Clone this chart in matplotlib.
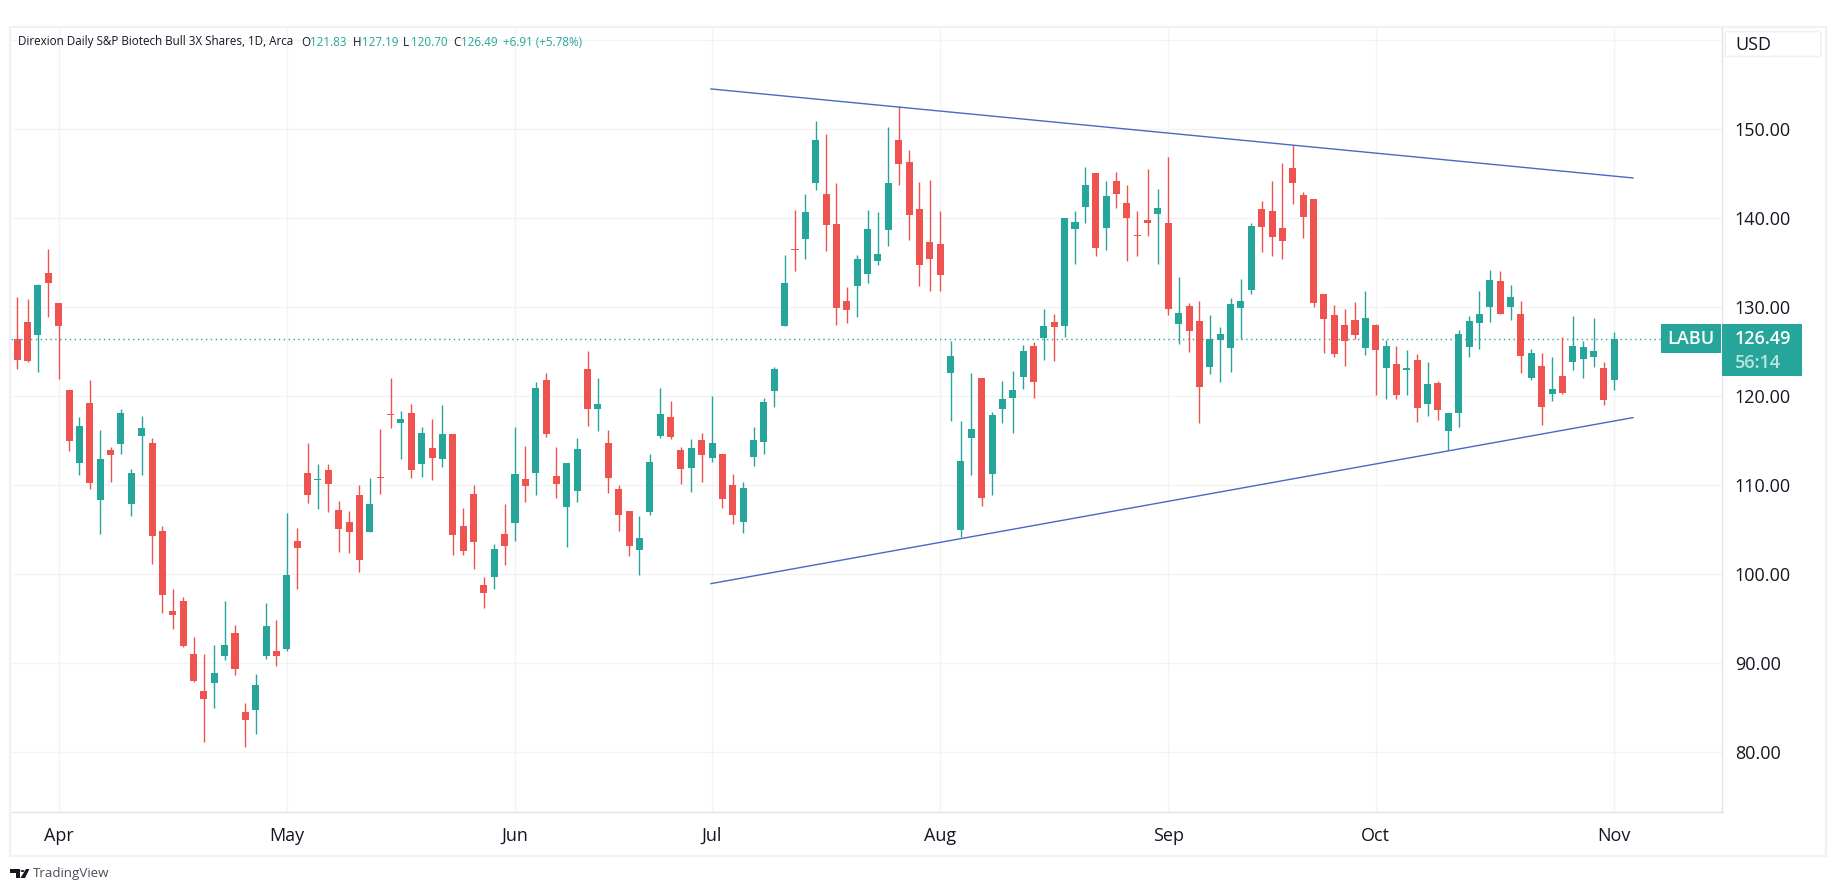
import numpy as np
import matplotlib
matplotlib.use("Agg")
import matplotlib.pyplot as plt
from matplotlib.patches import FancyBboxPatch, Polygon, Rectangle, Circle

plt.rcParams['font.family'] = ['Open Sans', 'DejaVu Sans']

# Daily candles, from 25 Mar to 1 Nov
opens = [126.41, 128.33, 126.91, 133.85, 130.49, 120.68, 112.54, 119.23, 108.38, 113.95,
         114.66, 107.93, 115.57, 114.74, 104.85, 95.88, 97.0, 91.06, 86.9, 87.74,
         90.77, 93.39, 84.54, 84.79, 90.77, 91.39, 91.64, 103.73, 111.38, 110.6,
         111.71, 107.22, 105.85, 108.88, 104.77, 110.95, 118.0, 116.98, 118.1, 112.41,
         114.2, 113.0, 115.77, 105.43, 109.03, 98.8, 99.74, 104.53, 105.81, 110.71,
         111.42, 121.84, 111.05, 107.6, 109.4, 123.07, 118.61, 114.76, 109.59, 107.12,
         102.77, 107.04, 115.54, 117.68, 113.97, 111.99, 115.09, 113.11, 113.52, 110.04,
         105.92, 113.22, 114.91, 120.64, 127.94, 136.6, 137.72, 144.01, 142.73, 139.36,
         130.71, 132.43, 133.78, 135.24, 138.73, 148.8, 146.33, 141.05, 137.34, 137.12,
         122.66, 105.02, 115.36, 122.06, 111.31, 118.61, 119.85, 122.21, 125.66, 126.55,
         128.35, 127.94, 138.84, 141.31, 145.09, 138.95, 144.19, 141.72, 138.15, 139.81,
         140.52, 139.48, 128.16, 130.15, 128.46, 123.33, 126.37, 125.47, 129.96, 131.99,
         141.05, 140.82, 138.91, 145.66, 142.62, 142.17, 131.5, 129.14, 128.01, 128.58,
         125.47, 128.01, 123.22, 123.63, 122.99, 124.08, 119.18, 121.5, 116.14, 118.17,
         125.58, 128.28, 130.07, 132.96, 130.07, 129.25, 122.06, 123.41, 120.3, 122.28,
         123.9, 124.23, 124.46, 123.18, 121.83]
highs = [131.15, 130.9, 132.56, 136.55, 130.49, 120.76, 117.65, 121.8, 116.2, 114.28,
         118.56, 111.87, 117.73, 115.36, 105.43, 98.33, 97.5, 92.97, 91.06, 92.06,
         97.0, 94.26, 85.53, 88.82, 96.79, 94.88, 106.89, 105.18, 114.74, 112.37,
         112.37, 108.22, 107.1, 110.05, 110.79, 116.32, 122.05, 118.35, 119.1, 116.53,
         117.44, 119.02, 115.77, 107.45, 110.04, 99.7, 103.41, 107.9, 116.55, 114.42,
         121.57, 122.62, 114.31, 112.51, 115.32, 125.09, 122.06, 116.22, 110.04, 107.12,
         106.55, 113.52, 120.94, 119.48, 114.31, 115.21, 115.88, 120.04, 113.52, 111.27,
         110.37, 116.55, 119.81, 123.3, 135.88, 140.94, 142.73, 150.94, 149.48, 143.97,
         132.28, 135.88, 140.94, 140.71, 150.26, 152.62, 147.68, 144.08, 144.31, 140.82,
         126.22, 117.23, 122.62, 122.06, 118.24, 121.72, 122.85, 125.77, 126.1, 129.81,
         129.25, 140.04, 140.82, 145.77, 145.09, 144.19, 145.21, 143.75, 140.82, 145.54,
         143.3, 146.89, 133.41, 130.49, 130.71, 129.14, 127.79, 131.05, 133.18, 139.48,
         141.95, 144.19, 146.22, 148.28, 142.96, 142.17, 131.5, 130.26, 129.81, 130.6,
         131.84, 128.13, 126.33, 125.66, 125.21, 124.76, 123.86, 121.72, 118.13, 127.45,
         129.03, 131.84, 134.19, 134.08, 132.51, 130.71, 125.32, 124.87, 124.42, 126.67,
         129.03, 126.22, 128.8, 123.86, 127.19]
lows = [123.09, 123.84, 122.76, 128.95, 121.97, 113.87, 111.21, 109.63, 104.56, 110.42,
        113.54, 106.6, 111.21, 101.2, 95.67, 93.88, 91.85, 87.94, 81.21, 85.03,
        90.4, 88.73, 80.55, 82.09, 90.52, 89.73, 91.43, 98.29, 108.05, 107.39,
        107.05, 102.53, 102.44, 100.28, 104.77, 109.05, 116.49, 113.0, 110.83, 110.96,
        110.63, 112.08, 102.21, 102.21, 100.64, 96.25, 98.39, 101.09, 103.78, 108.16,
        108.91, 115.47, 108.58, 103.11, 108.16, 116.7, 116.14, 109.18, 104.91, 102.1,
        99.96, 106.7, 115.36, 115.24, 110.15, 109.25, 110.37, 112.66, 107.49, 105.69,
        104.68, 112.21, 113.56, 118.84, 127.94, 134.08, 135.47, 143.22, 136.37, 128.05,
        128.28, 128.95, 132.77, 134.79, 136.93, 143.75, 137.6, 132.43, 131.87, 131.87,
        117.27, 104.23, 111.2, 107.72, 108.95, 117.04, 115.92, 120.86, 119.85, 124.12,
        124.01, 126.7, 134.91, 139.51, 135.81, 136.48, 141.2, 135.21, 135.81, 138.05,
        134.91, 129.18, 125.92, 125.02, 117.04, 122.55, 121.65, 122.77, 126.44, 131.54,
        136.25, 135.81, 135.47, 141.65, 137.83, 130.07, 124.91, 124.46, 123.45, 126.48,
        124.68, 120.15, 119.74, 119.74, 120.15, 117.15, 117.83, 117.38, 114.01, 116.59,
        124.46, 125.36, 128.39, 129.29, 128.61, 122.66, 121.87, 116.82, 119.51, 120.26,
        123.0, 122.1, 123.33, 119.06, 120.7]
closes = [124.09, 123.96, 132.48, 132.77, 127.91, 114.99, 116.65, 110.3, 112.95, 113.41,
          118.1, 111.38, 116.44, 104.35, 97.71, 95.46, 91.93, 88.03, 86.03, 88.9,
          92.06, 89.4, 83.66, 87.57, 94.18, 90.85, 99.91, 102.98, 108.92, 110.7,
          110.17, 105.14, 104.77, 101.65, 107.89, 110.8, 117.9, 117.44, 111.75, 115.86,
          113.12, 115.74, 104.46, 102.66, 103.67, 97.9, 102.85, 103.22, 111.27, 109.96,
          120.94, 115.81, 110.19, 112.51, 114.08, 118.61, 119.14, 110.86, 106.7, 103.22,
          104.08, 112.62, 118.01, 115.43, 111.87, 114.19, 113.45, 114.76, 108.5, 106.7,
          109.7, 115.09, 119.36, 123.07, 132.73, 136.45, 140.71, 148.8, 139.29, 129.96,
          129.74, 135.43, 138.8, 135.99, 143.97, 146.14, 140.41, 134.79, 135.47, 133.67,
          124.53, 112.73, 116.33, 108.61, 117.9, 119.7, 120.71, 125.09, 121.65, 127.9,
          127.79, 140.04, 139.59, 143.75, 136.7, 142.51, 142.77, 140.07, 138.0, 139.51,
          141.16, 129.85, 129.36, 127.38, 121.09, 126.44, 127.0, 130.37, 130.71, 139.14,
          139.06, 137.94, 137.49, 144.01, 140.19, 130.52, 128.73, 124.79, 126.25, 126.93,
          128.8, 125.24, 125.66, 120.19, 123.18, 118.73, 121.39, 118.5, 118.13, 127.0,
          128.46, 129.25, 133.07, 129.29, 131.16, 124.57, 124.87, 118.84, 120.82, 120.37,
          125.66, 125.54, 125.09, 119.63, 126.49]

last_price = 126.49
month_bars = [0, 22, 44, 63, 85, 107, 127, 150]
month_labels = ['Apr', 'May', 'Jun', 'Jul', 'Aug', 'Sep', 'Oct', 'Nov']
price_ticks = [80, 90, 100, 110, 120, 130, 140, 150, 160]
price_labels = ['80.00', '90.00', '100.00', '110.00', '120.00', '130.00', '140.00', '150.00', '']

# Trend lines: bar number, price
upper_x = [62.9, 151.8]
upper_y = [154.53, 144.53]
lower_x = [62.9, 151.8]
lower_y = [98.95, 117.6]

GREEN = '#26a69a'
RED = '#ef5350'
BLUE = '#4a68c4'
GRID = '#f2f3f5'
FRAME = '#f0f1f5'
EDGE = '#e0e3eb'
TEXT = '#131722'

W, H = 1835, 891
fig = plt.figure(figsize=(W / 100, H / 100), dpi=100, facecolor='white')


def fx(x):
    return x / W


def fy(y):
    return 1 - y / H


# main pane, placed by pixels
ax = fig.add_axes([fx(11), fy(812), (1721.5 - 11) / W, (812 - 27) / H])
ax.set_xlim(-4.6, 160.34)
ax.set_ylim(73.29, 161.49)

bars = np.arange(-4, 151)
o = np.array(opens)
h = np.array(highs)
l = np.array(lows)
c = np.array(closes)
colors = np.where(c >= o, GREEN, RED)

ax.set_axisbelow(True)
ax.grid(True, color=GRID, linewidth=1.0)
ax.axhline(last_price, color=GREEN, linewidth=1.0, linestyle=(0, (1, 2.5)), zorder=1.5)

ax.vlines(bars, l, h, colors=colors, linewidth=1.0, zorder=2)
ax.bar(bars, np.abs(c - o), bottom=np.minimum(o, c), width=0.68, color=colors, linewidth=0, zorder=3)

ax.plot(upper_x, upper_y, color=BLUE, linewidth=1.0, zorder=4)
ax.plot(lower_x, lower_y, color=BLUE, linewidth=1.0, zorder=4)

ax.set_xticks(month_bars)
ax.set_xticklabels(month_labels, fontsize=13, color=TEXT)
ax.yaxis.tick_right()
ax.set_yticks(price_ticks)
ax.set_yticklabels(price_labels, fontsize=13, color=TEXT)
ax.tick_params(axis='x', length=0, pad=10.5)
ax.tick_params(axis='y', length=0, pad=9.5)
for side in ['top', 'left']:
    ax.spines[side].set_visible(False)
for side in ['right', 'bottom']:
    ax.spines[side].set_color(EDGE)
    ax.spines[side].set_linewidth(1.0)

# outer frame of the widget
fig.add_artist(Rectangle((fx(10), fy(855.5)), (1825.5 - 10) / W, (855.5 - 26.5) / H, fill=False,
                         edgecolor=FRAME, linewidth=1.6, transform=fig.transFigure))

# legend line at the top
title_parts = [(18, 'Direxion Daily S&P Biotech Bull 3X Shares, 1D, Arca', TEXT),
               (301, 'O', TEXT), (310, '121.83', GREEN),
               (353, 'H', TEXT), (362, '127.19', GREEN),
               (403, 'L', TEXT), (411, '120.70', GREEN),
               (453, 'C', TEXT), (461, '126.49', GREEN),
               (503, '+6.91 (+5.78%)', GREEN)]
for x, s, col in title_parts:
    fig.text(fx(x), fy(42), s, color=col, fontsize=8.4, ha='left', va='center')

# USD button
fig.add_artist(FancyBboxPatch((fx(1727), fy(55.5)), 92 / W, 23 / H, transform=fig.transFigure,
                              boxstyle='round,pad=0.001', facecolor='white', edgecolor=FRAME, linewidth=1.2))
fig.text(fx(1735), fy(45.5), 'USD', color=TEXT, fontsize=13, ha='left', va='center')

# ticker tag and last price label
fig.add_artist(Rectangle((fx(1661), fy(352.7)), 60 / W, 28.7 / H, facecolor=GREEN, edgecolor='none',
                         transform=fig.transFigure))
fig.add_artist(Rectangle((fx(1722), fy(376)), 80 / W, 52 / H, facecolor=GREEN, edgecolor='none',
                         transform=fig.transFigure))
fig.text(fx(1691), fy(339), 'LABU', color='white', fontsize=13, fontweight='semibold', ha='center', va='center')
fig.text(fx(1735), fy(339.5), '126.49', color='white', fontsize=13, fontweight='semibold', ha='left', va='center')
fig.text(fx(1735), fy(362.5), '56:14', color='#bee4e1', fontsize=13, fontweight='semibold', ha='left', va='center')

# TradingView mark
mark = [Polygon([(fx(10), fy(869)), (fx(20), fy(869)), (fx(20), fy(878)), (fx(15.5), fy(878)),
                 (fx(15.5), fy(873)), (fx(10), fy(873))], closed=True),
        Polygon([(fx(26), fy(869)), (fx(29.5), fy(869)), (fx(25), fy(878)), (fx(20.5), fy(878))], closed=True),
        Circle((fx(22.5), fy(871)), 2 / W)]
for p in mark:
    p.set_transform(fig.transFigure)
    p.set_facecolor('#131722')
    p.set_edgecolor('none')
    fig.add_artist(p)
fig.text(fx(33), fy(873), 'TradingView', color='#4a4e5a', fontsize=9.6, ha='left', va='center')

fig.savefig('out.png', dpi=100, facecolor='white')
